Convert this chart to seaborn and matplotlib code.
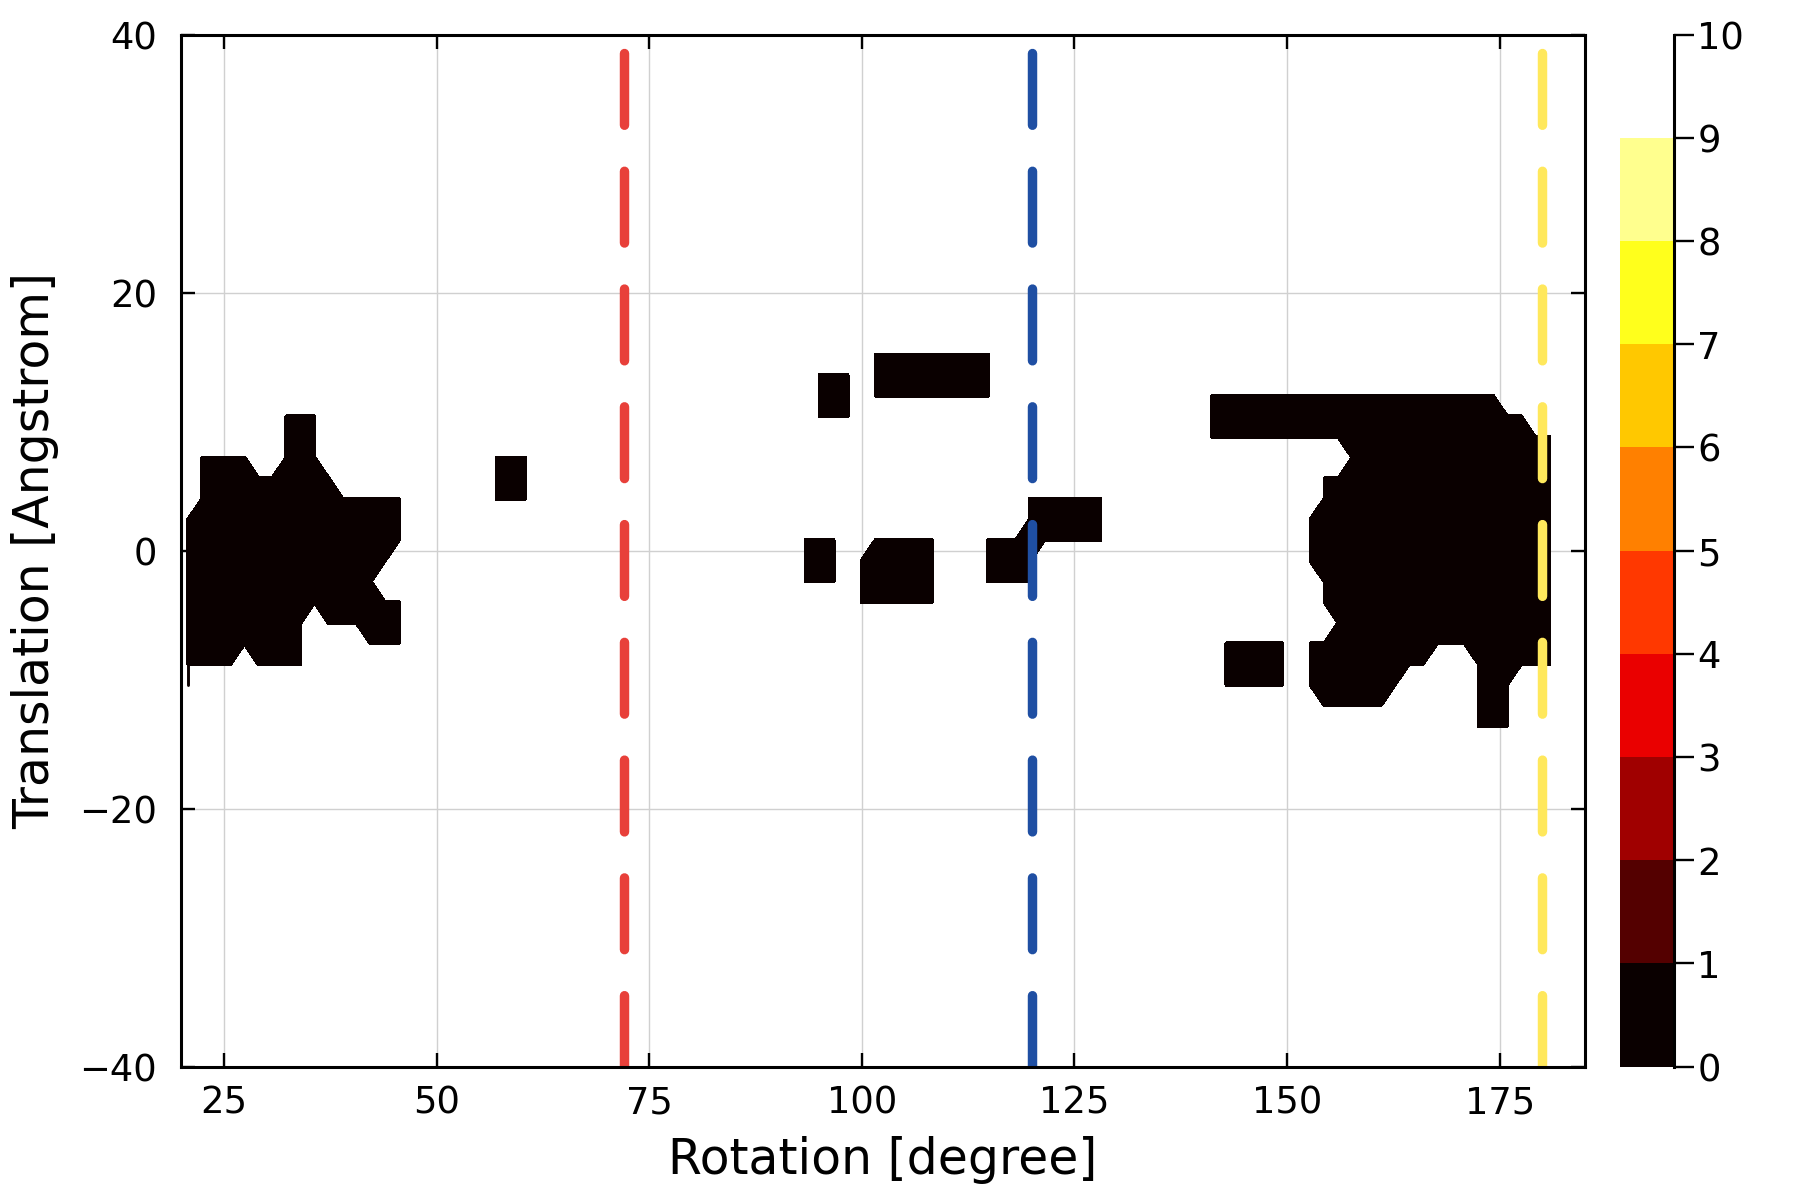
# Rotation / translation map with symmetry angles marked
import numpy as np
import pandas as pd
import matplotlib
matplotlib.use("Agg")
import matplotlib.pyplot as plt
import seaborn as sns

# regular search grid in rotation
rotation = np.linspace(20.8, 180.8, 98)

translation = [15.2, 13.6, 12.0, 10.4, 8.8, 7.2, 5.6, 4.0, 2.4, 0.8,
               -0.8, -2.4, -4.0, -5.6, -7.2, -8.8, -10.4, -12.0, -13.6]

# rotation grid indexes (first, last) of the cells that have a value, per translation row
low_spans = [
    [(49, 57)],
    [(45, 47), (49, 57)],
    [(45, 47), (49, 57), (73, 93)],
    [(7, 9), (45, 47), (73, 95)],
    [(7, 9), (73, 97)],
    [(1, 4), (7, 9), (22, 24), (83, 97)],
    [(1, 10), (22, 24), (81, 97)],
    [(1, 15), (22, 24), (60, 65), (81, 97)],
    [(0, 15), (60, 65), (80, 97)],
    [(0, 15), (44, 46), (49, 53), (57, 65), (80, 97)],
    [(0, 14), (44, 46), (48, 53), (57, 60), (80, 97)],
    [(0, 13), (44, 46), (48, 53), (57, 60), (81, 97)],
    [(0, 15), (48, 53), (81, 97)],
    [(0, 8), (10, 15), (82, 97)],
    [(0, 8), (13, 15), (74, 78), (80, 97)],
    [(0, 3), (5, 8), (74, 78), (80, 88), (92, 97)],
    [(74, 78), (80, 86), (92, 94)],
    [(81, 85), (92, 94)],
    [(92, 94)],
]
low_value = 0.5

# single leftover sample under the left blob
spur_rotation = [20.8, 20.8]
spur_translation = [-8.8, -10.4]

levels = [0, 1, 2, 3, 4, 5, 6, 7, 8, 9, 10]
band_colors = ["#0a0000", "#540000", "#a00000", "#ea0000", "#ff3800",
               "#ff8000", "#ffc800", "#ffff1c", "#ffff8e", "#ffffff"]

symmetry_angles = [72, 120, 180]
symmetry_colors = ["#e8403a", "#1f4fa3", "#ffe85c"]
line_top = 38.55
line_bottom = -40

x_ticks = [25, 50, 75, 100, 125, 150, 175]
y_ticks = [-40, -20, 0, 20, 40]

sns.set_theme(style="white", font="DejaVu Sans")

grid = np.full((len(translation), len(rotation)), np.nan)
for row, spans in enumerate(low_spans):
    for first, last in spans:
        grid[row, first:last + 1] = low_value

fig = plt.figure(figsize=(9, 6), dpi=200)
ax = fig.add_axes([0.1008, 0.1112, 0.7796, 0.86])
cax = fig.add_axes([0.9, 0.1112, 0.03, 0.86])

cs = ax.contourf(rotation, translation, np.ma.masked_invalid(grid), levels=levels,
                 colors=band_colors, corner_mask=True)
cs.set_edgecolor("face")
cs.set_linewidth(1.05)
cs.set_joinstyle("round")

sns.lineplot(x=spur_rotation, y=spur_translation, color=band_colors[0], linewidth=1.05,
             sort=False, estimator=None, ax=ax)

lines = pd.DataFrame({
    "rotation": [a for a in symmetry_angles for _ in range(2)],
    "translation": [line_top, line_bottom] * len(symmetry_angles),
})
sns.lineplot(data=lines, x="rotation", y="translation", hue="rotation",
             palette=dict(zip(symmetry_angles, symmetry_colors)), units="rotation",
             estimator=None, sort=False, legend=False, linewidth=3.4,
             linestyle=(0, (7.6, 4.87)), dash_capstyle="round", ax=ax)

ax.set_xlim(20, 185)
ax.set_ylim(-40, 40)
ax.set_xticks(x_ticks)
ax.set_yticks(y_ticks)
ax.set_yticklabels(["\u221240", "\u221220", "0", "20", "40"])
ax.grid(True, color="#d0d0d0", linewidth=0.5)
ax.set_axisbelow(True)
ax.tick_params(direction="in", length=5, width=0.85, top=True, right=True,
               bottom=True, left=True, labelsize=13.3, color="black", labelcolor="black")
ax.tick_params(axis="x", pad=6.5)
ax.tick_params(axis="y", pad=8.7)
for spine in ax.spines.values():
    spine.set_linewidth(1.1)
    spine.set_color("black")
ax.set_xlabel("Rotation [degree]", fontsize=17.6, color="black")
ax.set_ylabel("Translation [Angstrom]", fontsize=17.6, color="black")
ax.xaxis.set_label_coords(0.5, -0.0675)
ax.yaxis.set_label_coords(-0.087, 0.5)

cbar = fig.colorbar(cs, cax=cax, ticks=levels)
cbar.outline.set_visible(False)
cax.spines["right"].set_visible(True)
cax.spines["right"].set_linewidth(1.1)
cax.spines["right"].set_color("black")
cax.tick_params(axis="y", direction="out", length=7.2, width=0.85, right=True,
                labelsize=13.3, pad=1.2, color="black", labelcolor="black")

fig.savefig("out.png", dpi=200, facecolor="white")
